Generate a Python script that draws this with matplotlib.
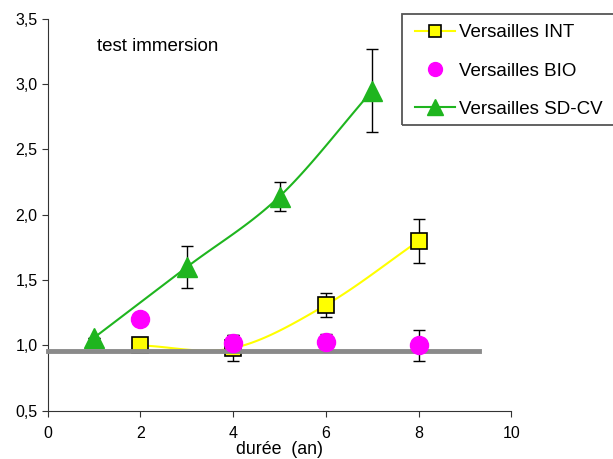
import numpy as np
import matplotlib
matplotlib.use('Agg')
import matplotlib.pyplot as plt
import matplotlib.ticker as mtick
from matplotlib.patches import Rectangle

plt.rcParams['font.family'] = ['Liberation Sans', 'DejaVu Sans']

## -------------------------------------------------------------------------- ##
duree_int = [2, 4, 6, 8]
val_int = [1.00, 0.98, 1.31, 1.80]
err_int = [0.0, 0.10, 0.09, 0.17]

duree_bio = [2, 4, 6, 8]
val_bio = [1.20, 1.02, 1.03, 1.00]
err_bio = [0.0, 0.06, 0.06, 0.12]

duree_sd = [1, 3, 5, 7]
val_sd = [1.06, 1.60, 2.14, 2.95]
err_sd = [0.0, 0.16, 0.11, 0.32]

ref_x = [0, 9.3]
ref_y = [0.96, 0.96]
## -------------------------------------------------------------------------- ##

def smooth(x, y, n=30):
  # catmull-rom, like the excel smoothed line
  x = np.asarray(x, float); y = np.asarray(y, float)
  px = np.concatenate([[2*x[0]-x[1]], x, [2*x[-1]-x[-2]]])
  py = np.concatenate([[2*y[0]-y[1]], y, [2*y[-1]-y[-2]]])
  xs, ys = [], []
  t = np.linspace(0, 1, n)
  for i in range(1, len(px)-2):
    for p, out in ((px, xs), (py, ys)):
      p0, p1, p2, p3 = p[i-1], p[i], p[i+1], p[i+2]
      out.extend(0.5*((2*p1) + (-p0+p2)*t + (2*p0-5*p1+4*p2-p3)*t**2
                      + (-p0+3*p1-3*p2+p3)*t**3))
  return np.array(xs), np.array(ys)

fig = plt.figure(figsize=(6.13, 4.59), dpi=100)
ax = fig.add_axes([0.078, 0.105, 0.756, 0.854])

sx, sy = smooth(duree_int, val_int)
ax.plot(sx, sy, color='#ffff00', lw=1.5, zorder=2)
sx, sy = smooth(duree_sd, val_sd)
ax.plot(sx, sy, color='#1fb51f', lw=1.5, zorder=2)

ax.errorbar(duree_int, val_int, yerr=err_int, fmt='none', ecolor='black',
            elinewidth=1, capsize=4, zorder=3)
ax.errorbar(duree_bio, val_bio, yerr=err_bio, fmt='none', ecolor='black',
            elinewidth=1, capsize=4, zorder=3)
ax.errorbar(duree_sd, val_sd, yerr=err_sd, fmt='none', ecolor='black',
            elinewidth=1, capsize=4, zorder=3)

ax.plot(duree_int, val_int, ls='none', marker='s', ms=12, mfc='#ffff00',
        mec='black', mew=1.2, zorder=4)
ax.plot(duree_sd, val_sd, ls='none', marker='^', ms=14, mfc='#1fb51f',
        mec='#1fb51f', zorder=4)
ax.plot(ref_x, ref_y, color='#8a8a8a', lw=3.5, zorder=5, clip_on=False)
ax.plot(duree_bio, val_bio, ls='none', marker='o', ms=13, mfc='#ff00ff',
        mec='#ff00ff', zorder=6)

# legend handles
h1, = ax.plot([], [], color='#ffff00', lw=1.5, marker='s', ms=9,
              mfc='#ffff00', mec='black', mew=1.2)
h2, = ax.plot([], [], ls='none', marker='o', ms=10, mfc='#ff00ff', mec='#ff00ff')
h3, = ax.plot([], [], color='#1fb51f', lw=1.5, marker='^', ms=11,
              mfc='#1fb51f', mec='#1fb51f')
leg = fig.legend([h1, h2, h3], ['Versailles INT', 'Versailles BIO',
                                'Versailles SD-CV'],
                 loc='upper left', bbox_to_anchor=(0.677, 0.947),
                 fontsize=13.5, frameon=False,
                 handlelength=2.13, labelspacing=1.12, borderpad=0,
                 handletextpad=0.2, borderaxespad=0)
fig.patches.append(Rectangle((402/613, 1-125/459), 0.36, 111/459,
                             transform=fig.transFigure, fill=False,
                             edgecolor='#555555', lw=1.3, clip_on=False))

ax.text(1.06, 3.29, 'test immersion', fontsize=13.5, ha='left', va='center')

ax.set_xlim(0, 10)
ax.set_ylim(0.5, 3.5)
ax.set_xticks([0, 2, 4, 6, 8, 10])
ax.set_yticks([0.5, 1.0, 1.5, 2.0, 2.5, 3.0, 3.5])
ax.yaxis.set_major_formatter(mtick.FuncFormatter(
  lambda v, p: ('%.1f' % v).replace('.', ',')))
ax.spines['top'].set_visible(False)
ax.spines['right'].set_visible(False)
for s in ('left', 'bottom'):
  ax.spines[s].set_color('#333333')
ax.tick_params(direction='out', length=4, labelsize=11.5, color='#333333')
ax.tick_params(axis='x', pad=7)
ax.set_xlabel('durée  (an)', fontsize=12.8, labelpad=0)

plt.savefig('out.png', dpi=100)
